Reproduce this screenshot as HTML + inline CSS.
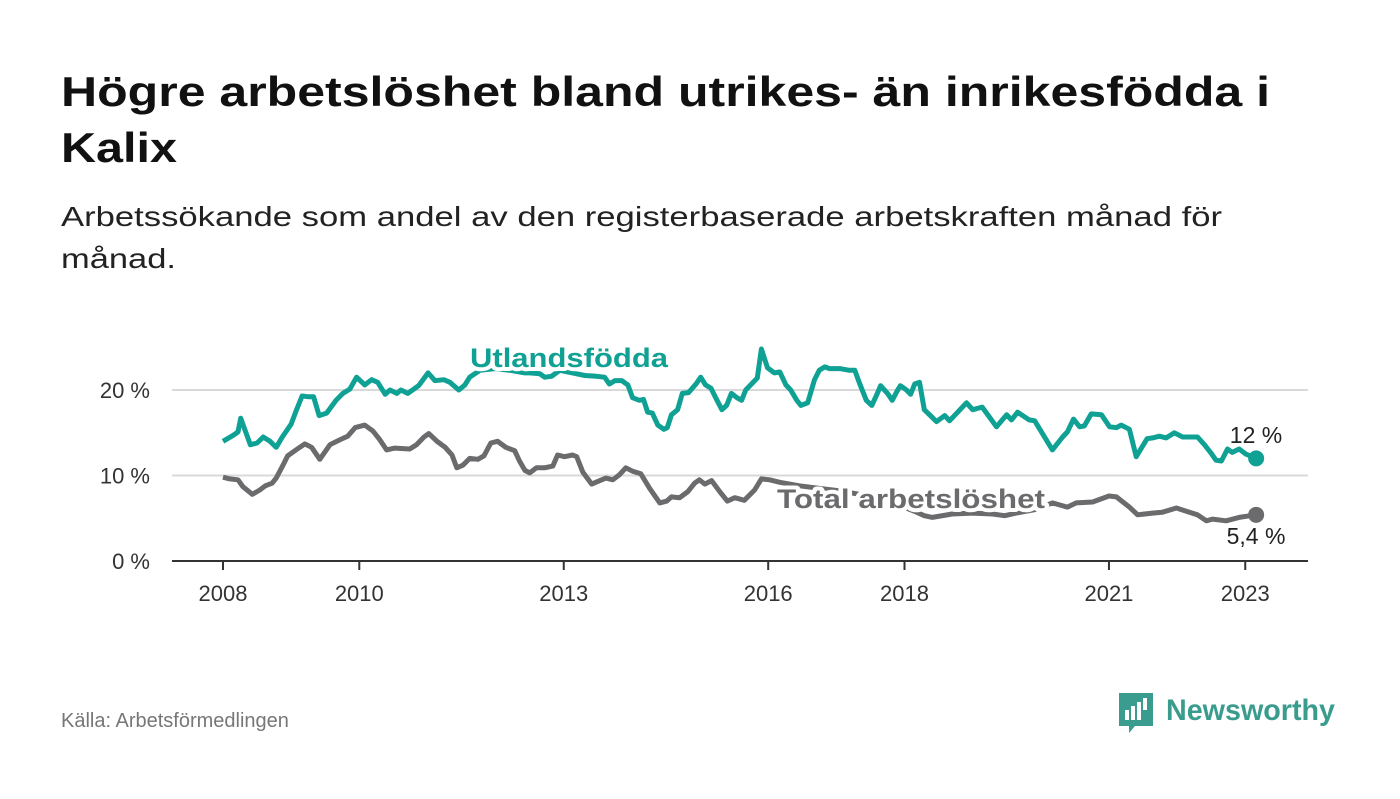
<!DOCTYPE html>
<html><head><meta charset="utf-8"><style>
body{margin:0;width:1400px;height:794px;background:#fff;font-family:"Liberation Sans",sans-serif;overflow:hidden}
</style></head><body>
<svg id="chart" width="1400" height="794" xmlns="http://www.w3.org/2000/svg" font-family="Liberation Sans, sans-serif">
<text x="61" y="106" font-size="42" font-weight="bold" fill="#111" textLength="1209" lengthAdjust="spacingAndGlyphs">Högre arbetslöshet bland utrikes- än inrikesfödda i</text>
<text x="61" y="162" font-size="42" font-weight="bold" fill="#111" textLength="116" lengthAdjust="spacingAndGlyphs">Kalix</text>
<text x="61" y="226" font-size="28" fill="#222" textLength="1161" lengthAdjust="spacingAndGlyphs">Arbetssökande som andel av den registerbaserade arbetskraften månad för</text>
<text x="61" y="268" font-size="28" fill="#222" textLength="115" lengthAdjust="spacingAndGlyphs">månad.</text>
<g id="grid"></g><g id="axes"></g><g id="lines"></g><g id="labels"></g>
<text x="61" y="727" font-size="20" fill="#777">Källa: Arbetsförmedlingen</text>
<g>
<path d="M1119 693 h34 v33 h-18 l-6 7 v-7 h-10 z" fill="#3a9c8e"/>
<rect x="1125" y="710" width="4" height="10" fill="#fff"/><rect x="1131" y="706" width="4" height="14" fill="#fff"/><rect x="1137" y="702" width="4" height="18" fill="#fff"/><rect x="1143" y="698" width="4" height="12" fill="#fff"/>
<text x="1166" y="720" font-size="30" font-weight="bold" fill="#3a9c8e" textLength="169" lengthAdjust="spacingAndGlyphs">Newsworthy</text>
</g>
</svg>
<script>
const yTicks=[0,10,20];
const yTickLabels=["0 %","10 %","20 %"];
const xTicks=[2008,2010,2013,2016,2018,2021,2023];
const utlDates=[2008.00,2008.15,2008.22,2008.26,2008.40,2008.50,2008.59,2008.69,2008.78,2008.87,2009.00,2009.07,2009.16,2009.26,2009.33,2009.41,2009.52,2009.66,2009.76,2009.86,2009.96,2010.08,2010.18,2010.27,2010.38,2010.45,2010.55,2010.61,2010.71,2010.87,2011.01,2011.11,2011.24,2011.33,2011.46,2011.55,2011.62,2011.77,2011.99,2012.21,2012.43,2012.50,2012.65,2012.72,2012.82,2012.94,2013.19,2013.31,2013.48,2013.60,2013.67,2013.75,2013.85,2013.94,2014.01,2014.11,2014.17,2014.23,2014.30,2014.38,2014.47,2014.52,2014.58,2014.67,2014.74,2014.83,2014.95,2015.01,2015.08,2015.16,2015.23,2015.32,2015.39,2015.46,2015.54,2015.61,2015.67,2015.84,2015.90,2015.99,2016.09,2016.17,2016.26,2016.33,2016.42,2016.48,2016.58,2016.68,2016.75,2016.83,2016.90,2017.05,2017.19,2017.27,2017.34,2017.44,2017.52,2017.59,2017.65,2017.75,2017.82,2017.90,2017.94,2018.03,2018.09,2018.15,2018.22,2018.29,2018.47,2018.59,2018.66,2018.91,2019.00,2019.14,2019.35,2019.50,2019.57,2019.66,2019.83,2019.91,2020.17,2020.32,2020.39,2020.48,2020.57,2020.64,2020.74,2020.89,2021.01,2021.11,2021.18,2021.30,2021.40,2021.56,2021.64,2021.74,2021.84,2021.96,2022.08,2022.30,2022.40,2022.50,2022.57,2022.65,2022.74,2022.81,2022.91,2023.01,2023.16];
const utlValues=[14.0,14.7,15.1,16.7,13.6,13.8,14.5,14.0,13.3,14.5,16.0,17.5,19.3,19.2,19.2,17.0,17.3,18.8,19.6,20.1,21.5,20.6,21.2,20.9,19.5,20.0,19.6,20.0,19.6,20.5,22.0,21.1,21.2,20.9,20.0,20.6,21.5,22.3,22.5,22.3,22.0,22.0,21.9,21.5,21.6,22.3,21.9,21.7,21.6,21.5,20.7,21.1,21.1,20.6,19.1,18.8,18.9,17.4,17.3,15.9,15.4,15.6,17.1,17.7,19.6,19.7,20.8,21.5,20.6,20.2,19.1,17.7,18.2,19.6,19.1,18.8,20.0,21.4,24.8,22.6,22.0,22.1,20.6,20.0,18.8,18.2,18.5,21.2,22.3,22.7,22.5,22.5,22.3,22.3,20.8,18.8,18.2,19.4,20.5,19.6,18.8,20.0,20.5,20.0,19.5,20.7,20.9,17.7,16.3,17.0,16.4,18.5,17.7,18.0,15.7,17.1,16.5,17.4,16.5,16.4,13.0,14.5,15.1,16.6,15.7,15.8,17.2,17.1,15.7,15.6,15.9,15.4,12.2,14.3,14.4,14.6,14.4,15.0,14.5,14.5,13.6,12.6,11.8,11.7,13.1,12.7,13.1,12.5,12.0];
const totDates=[2008.00,2008.10,2008.22,2008.29,2008.43,2008.54,2008.62,2008.72,2008.78,2008.88,2008.95,2009.09,2009.20,2009.30,2009.42,2009.57,2009.72,2009.83,2009.94,2010.08,2010.20,2010.30,2010.40,2010.52,2010.74,2010.84,2010.95,2011.02,2011.14,2011.26,2011.36,2011.43,2011.52,2011.62,2011.74,2011.83,2011.93,2012.03,2012.15,2012.28,2012.35,2012.43,2012.50,2012.60,2012.72,2012.84,2012.91,2013.01,2013.13,2013.19,2013.28,2013.41,2013.53,2013.62,2013.72,2013.82,2013.91,2014.01,2014.13,2014.26,2014.41,2014.51,2014.58,2014.70,2014.82,2014.92,2014.99,2015.07,2015.17,2015.29,2015.40,2015.51,2015.65,2015.80,2015.90,2016.02,2016.17,2016.46,2016.75,2017.05,2017.34,2017.63,2017.93,2018.15,2018.29,2018.41,2018.70,2019.00,2019.29,2019.47,2019.64,2019.91,2020.17,2020.39,2020.52,2020.76,2021.00,2021.11,2021.30,2021.42,2021.64,2021.78,2021.99,2022.18,2022.30,2022.43,2022.52,2022.72,2022.91,2023.16];
const totValues=[9.8,9.6,9.5,8.7,7.8,8.3,8.8,9.1,9.7,11.2,12.3,13.1,13.7,13.3,11.9,13.6,14.2,14.6,15.6,15.9,15.2,14.2,13.0,13.2,13.1,13.6,14.5,14.9,14.0,13.3,12.4,10.9,11.2,12.0,11.9,12.3,13.8,14.0,13.3,12.9,11.7,10.6,10.3,10.9,10.9,11.1,12.4,12.2,12.4,12.2,10.4,9.0,9.4,9.7,9.5,10.1,10.9,10.5,10.2,8.5,6.8,7.0,7.5,7.4,8.1,9.1,9.5,9.0,9.4,8.1,7.0,7.4,7.1,8.3,9.6,9.5,9.2,8.8,8.5,8.2,7.8,7.2,6.5,5.8,5.3,5.1,5.5,5.6,5.5,5.3,5.6,6.0,6.8,6.3,6.8,6.9,7.6,7.5,6.3,5.4,5.6,5.7,6.2,5.7,5.4,4.7,4.9,4.7,5.1,5.4];
const NS="http://www.w3.org/2000/svg";
const X=y=>223+(y-2008)*68.15;
const Y=v=>561-v*8.55;
function mk(tag,attrs,parent,text){const e=document.createElementNS(NS,tag);for(const k in attrs)e.setAttribute(k,attrs[k]);if(text!=null)e.textContent=text;document.getElementById(parent).appendChild(e);return e;}
yTicks.forEach((t,i)=>{
  if(t>0){const g=mk('line',{x1:172,x2:1308,y1:Y(t),y2:Y(t),stroke:'#d9d9d9','stroke-width':2},'grid');
  
  }
  const l=mk('text',{x:150,y:Y(t)+8,'text-anchor':'end','font-size':22,fill:'#333'},'axes',yTickLabels[i]);
  
  
});
const base=mk('line',{x1:172,x2:1308,y1:561,y2:561,stroke:'#333','stroke-width':2},'axes');


xTicks.forEach(t=>{
  const tk=mk('line',{x1:X(t),x2:X(t),y1:561,y2:570,stroke:'#333','stroke-width':2},'axes');
  
  
  const l=mk('text',{x:X(t),y:601,'text-anchor':'middle','font-size':22,fill:'#333'},'axes',String(t));
  
  
});
function line(dates,vals,color,name){
  const d=dates.map((t,i)=>(i?'L':'M')+X(t).toFixed(1)+' '+Y(vals[i]).toFixed(1)).join(' ');
  const p=mk('path',{d:d,fill:'none',stroke:color,'stroke-width':5,'stroke-linejoin':'round'},'lines');
  
  
  const n=dates.length-1;
  const c=mk('circle',{cx:X(dates[n]),cy:Y(vals[n]),r:8,fill:color},'lines');
  
  
}
line(totDates,totValues,'#6b6b6d','total');
line(utlDates,utlValues,'#0fa193','utlandsfodda');
function lab(x,y,txt,col,name,bold,anchor,len){
  const a={x:x,y:y,'font-size':bold?27:23,'font-weight':bold?'bold':'normal',fill:col,stroke:'#fff','stroke-width':bold?8:5,'paint-order':'stroke','stroke-linejoin':'round','text-anchor':anchor||'start'};
  if(len){a.textLength=len;a.lengthAdjust='spacingAndGlyphs';}
  const t=mk('text',a,'labels',txt);
  
  
}
lab(470,367,'Utlandsfödda','#0fa193','utlandsfodda-label',true,'start',198);
lab(777,508,'Total arbetslöshet','#6b6b6d','total-label',true,'start',268);
lab(1256,443,'12 %','#222','utlandsfodda-end-label',false,'middle');
lab(1256,544,'5,4 %','#222','total-end-label',false,'middle');
</script>
</body></html>
